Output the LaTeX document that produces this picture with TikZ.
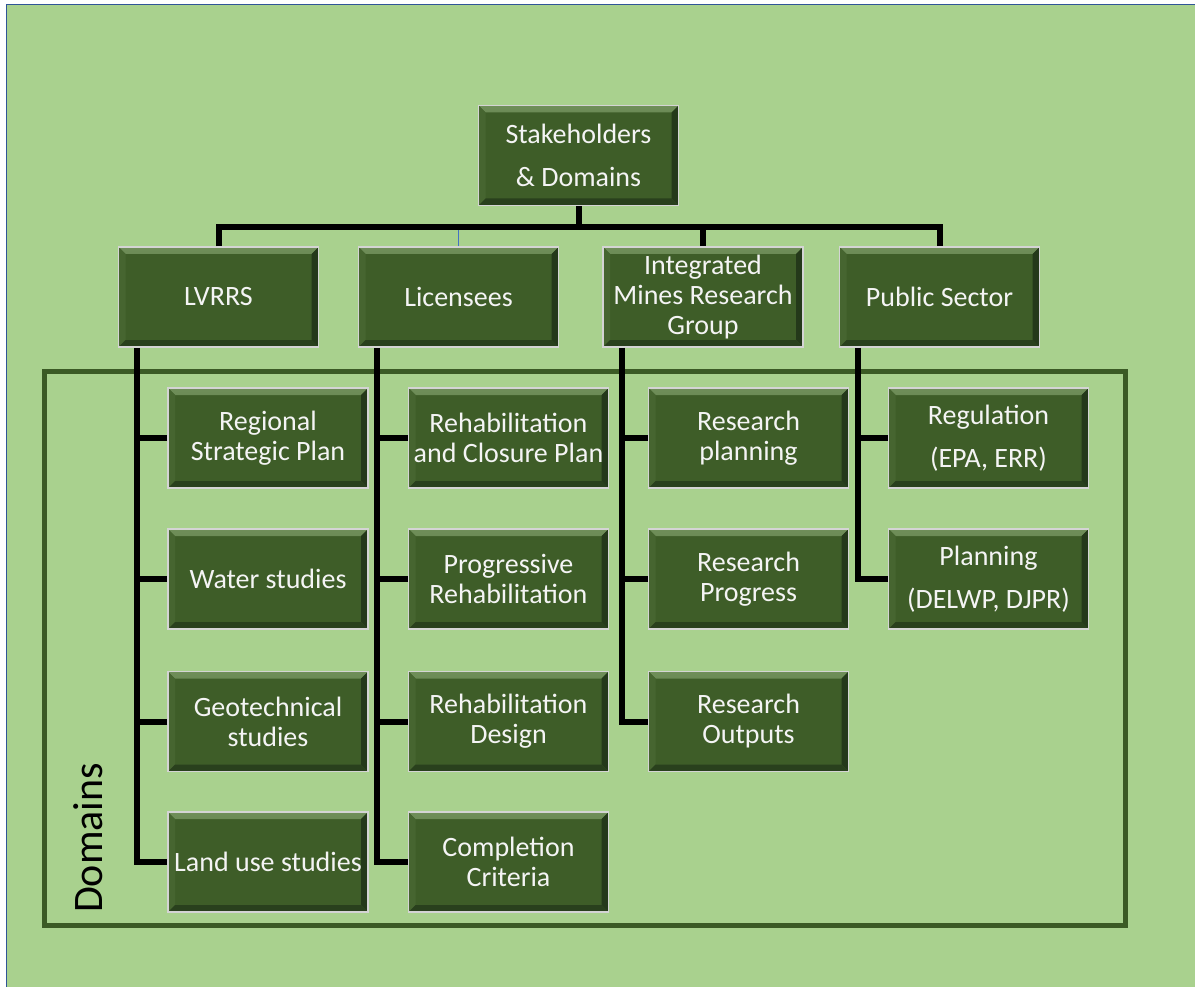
\documentclass[tikz,border=0pt]{standalone}
\usepackage{fontspec}
\setmainfont{Carlito}
\definecolor{bggreen}{HTML}{A9D18E}
\definecolor{boxfill}{HTML}{3E5D28}
\definecolor{boxline}{HTML}{D4D4D4}
\definecolor{bevtop}{HTML}{6F8E59}
\definecolor{bevleft}{HTML}{466530}
\definecolor{bevdark}{HTML}{24391A}
\definecolor{framegreen}{HTML}{3B5A25}
\definecolor{pageblue}{HTML}{2F5597}
\definecolor{thinblue}{HTML}{4472C4}
\definecolor{boxtext}{HTML}{F4F4F4}
\tikzset{
  gbox/.style={draw=boxline, line width=1.6pt, fill=boxfill, minimum width=200pt,
    minimum height=100pt, inner sep=0pt, align=center, text=boxtext,
    font=\fontsize{28}{30}\selectfont,
    path picture={
      \shade[top color=bevtop, bottom color=boxfill] (path picture bounding box.north west) -- (path picture bounding box.north east)
        -- ([xshift=-7pt,yshift=-7pt]path picture bounding box.north east)
        -- ([xshift=7pt,yshift=-7pt]path picture bounding box.north west) -- cycle;
      \fill[bevleft] (path picture bounding box.north west) -- ([xshift=7pt,yshift=-7pt]path picture bounding box.north west)
        -- ([xshift=7pt,yshift=7pt]path picture bounding box.south west)
        -- (path picture bounding box.south west) -- cycle;
      \fill[bevdark] (path picture bounding box.north east) -- ([xshift=-7pt,yshift=-7pt]path picture bounding box.north east)
        -- ([xshift=-7pt,yshift=7pt]path picture bounding box.south east)
        -- (path picture bounding box.south east) -- cycle;
      \fill[bevdark!80!boxfill] (path picture bounding box.south west) -- ([xshift=7pt,yshift=7pt]path picture bounding box.south west)
        -- ([xshift=-7pt,yshift=7pt]path picture bounding box.south east)
        -- (path picture bounding box.south east) -- cycle;
    }},
  wide/.style={font=\fontsize{28}{43}\selectfont},
  conn/.style={draw=black, line width=6pt},
  thinconn/.style={draw=thinblue, line width=1pt},
  domframe/.style={draw=framegreen, line width=5pt},
  pageline/.style={draw=pageblue, line width=1.5pt}
}
\begin{document}
\begin{tikzpicture}[x=1pt,y=-1pt]
\useasboundingbox (0,0) rectangle (1195,987);
\fill[white] (0,0) rectangle (1195,987);
\fill[bggreen] (6.5,4.5) rectangle (1195,987);
\draw[pageline] (6.5,987) -- (6.5,4.5) -- (1195,4.5);

% domains frame
\draw[domframe] (44,371.5) rectangle (1125.5,925.5);
\node[rotate=90, anchor=base, font=\fontsize{42}{42}\selectfont, text=black, inner sep=0pt] (domlabel) at (102,838) {Domains};

% top node
\node[gbox, wide] (top) at (578.5,155.5) {Stakeholders\\\& Domains};

% level 2
\node[gbox] (lvrrs) at (218.5,297) {LVRRS};
\node[gbox] (lic) at (458.5,297) {Licensees};
\node[gbox] (imrg) at (703,297) {Integrated\\Mines Research\\Group};
\node[gbox] (pub) at (939.5,297) {Public Sector};

% children col 1
\node[gbox] (reg) at (268,438) {Regional\\Strategic Plan};
\node[gbox] (water) at (268,579) {Water studies};
\node[gbox] (geo) at (268,721.5) {Geotechnical\\studies};
\node[gbox] (land) at (268,862) {Land use studies};
% col 2
\node[gbox] (rcp) at (508.5,438) {Rehabilitation\\and Closure Plan};
\node[gbox] (prog) at (508.5,579) {Progressive\\Rehabilitation};
\node[gbox] (rdes) at (508.5,721.5) {Rehabilitation\\Design};
\node[gbox] (comp) at (508.5,862) {Completion\\Criteria};
% col 3
\node[gbox] (rplan) at (748.5,438) {Research\\planning};
\node[gbox] (rprog) at (748.5,579) {Research\\Progress};
\node[gbox] (rout) at (748.5,721.5) {Research\\Outputs};
% col 4
\node[gbox, wide] (regul) at (988.5,438) {Regulation\\(EPA, ERR)};
\node[gbox, wide] (plan) at (988.5,579) {Planning\\(DELWP, DJPR)};

% top connectors
\coordinate (bar) at (578.5,227);
\draw[conn] (top.south) -- (top.south |- bar);
\draw[conn] (lvrrs.north) -- (lvrrs.north |- bar) -- (pub.north |- bar) -- (pub.north);
\draw[conn] (imrg.north) -- (imrg.north |- bar);
\draw[thinconn] (lic.north) -- ([yshift=-3pt]lic.north |- bar);

% column coordinates
\coordinate (c1) at ([xshift=19.5pt]lvrrs.south west);
\coordinate (c2) at ([xshift=19.5pt]lic.south west);
\coordinate (c3) at ([xshift=19.5pt]imrg.south west);
\coordinate (c4) at ([xshift=19.5pt]pub.south west);

\draw[conn] (c1) |- (land.west);
\draw[conn] (reg.west) -- (reg.west -| c1);
\draw[conn] (water.west) -- (water.west -| c1);
\draw[conn] (geo.west) -- (geo.west -| c1);

\draw[conn] (c2) |- (comp.west);
\draw[conn] (rcp.west) -- (rcp.west -| c2);
\draw[conn] (prog.west) -- (prog.west -| c2);
\draw[conn] (rdes.west) -- (rdes.west -| c2);

\draw[conn] (c3) |- (rout.west);
\draw[conn] (rplan.west) -- (rplan.west -| c3);
\draw[conn] (rprog.west) -- (rprog.west -| c3);

\draw[conn] (c4) |- (plan.west);
\draw[conn] (regul.west) -- (regul.west -| c4);
\end{tikzpicture}
\end{document}
